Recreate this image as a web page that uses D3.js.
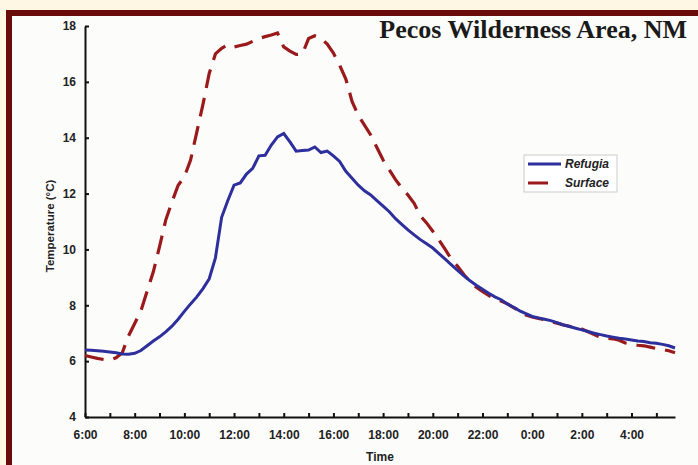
<!DOCTYPE html>
<html>
<head>
<meta charset="utf-8">
<script src="https://cdn.jsdelivr.net/npm/d3@7"></script>
<style>
  body { margin: 0; background: #fdf7e3; }
  svg { display: block; }
</style>
</head>
<body>
<svg width="698" height="465"></svg>
<script>
// quarter-hour readings, starting 6:00
var refugia = [
    6.40, 6.39, 6.37, 6.35,
    6.33, 6.30, 6.26, 6.25,
    6.28, 6.38, 6.55, 6.72,
    6.87, 7.05, 7.25, 7.50,
    7.78, 8.05, 8.30, 8.60,
    8.95, 9.70, 11.15, 11.75,
    12.30, 12.38, 12.70, 12.90,
    13.35, 13.37, 13.74, 14.03,
    14.15, 13.85, 13.52, 13.54,
    13.56, 13.67, 13.47, 13.52,
    13.35, 13.15, 12.80, 12.55,
    12.30, 12.10, 11.95, 11.75,
    11.55, 11.35, 11.10, 10.90,
    10.70, 10.52, 10.35, 10.20,
    10.05, 9.85, 9.65, 9.45,
    9.25, 9.05, 8.88, 8.72,
    8.57, 8.43, 8.30, 8.20,
    8.05, 7.93, 7.80, 7.70,
    7.60, 7.55, 7.50, 7.45,
    7.38, 7.30, 7.24, 7.18,
    7.12, 7.06, 7.00, 6.95,
    6.90, 6.86, 6.82, 6.79,
    6.76, 6.72, 6.70, 6.66,
    6.64, 6.60, 6.55, 6.47
]
var surface = [
    6.20, 6.15, 6.10, 6.06,
    6.04, 6.12, 6.30, 6.90,
    7.35, 7.80, 8.50, 9.20,
    10.10, 11.05, 11.70, 12.30,
    12.60, 13.20, 14.20, 15.20,
    16.30, 17.00, 17.20, 17.33,
    17.25, 17.30, 17.35, 17.45,
    17.55, 17.62, 17.68, 17.75,
    17.25, 17.10, 16.98, 17.00,
    17.55, 17.65, 17.57, 17.35,
    17.03, 16.60, 16.10, 15.30,
    14.80, 14.45, 14.10, 13.65,
    13.20, 12.85, 12.50, 12.20,
    11.95, 11.65, 11.20, 10.95,
    10.65, 10.34, 10.00, 9.65,
    9.40, 9.10, 8.85, 8.65,
    8.50, 8.35, 8.22, 8.15,
    8.05, 7.92, 7.80, 7.65,
    7.58, 7.53, 7.48, 7.42,
    7.36, 7.30, 7.25, 7.20,
    7.15, 7.05, 6.95, 6.85,
    6.82, 6.80, 6.75, 6.65,
    6.60, 6.57, 6.55, 6.50,
    6.45, 6.42, 6.37, 6.30
]
var timeLabels = ["6:00","8:00","10:00","12:00","14:00","16:00","18:00","20:00","22:00","0:00","2:00","4:00"]
var tempTicks = [4, 6, 8, 10, 12, 14, 16, 18]
var seriesNames = ["Refugia", "Surface"]

var svg = d3.select("svg")

// maroon frame + inner panel
svg.append("rect").attr("x", 6).attr("y", 10).attr("width", 700).attr("height", 470).attr("fill", "#6a0b0b")
svg.append("rect").attr("x", 12).attr("y", 16).attr("width", 700).attr("height", 470).attr("fill", "#fcfcfb")

var x = d3.scaleLinear().domain([0, 23.75]).range([85, 675])
var y = d3.scaleLinear().domain([4, 18]).range([417, 26])

var font = "'Liberation Sans', Arial, sans-serif"

var xAxis = d3.axisBottom(x)
    .tickValues(d3.range(0, 24))
    .tickSizeInner(-4).tickSizeOuter(0).tickPadding(13)
    .tickFormat(function(d){ return d % 2 == 0 ? timeLabels[d / 2] : "" })
var yAxis = d3.axisLeft(y)
    .tickValues(tempTicks)
    .tickSizeInner(-4).tickSizeOuter(0).tickPadding(9)

var gx = svg.append("g").attr("transform", "translate(0,417)").call(xAxis)
var gy = svg.append("g").attr("transform", "translate(85,0)").call(yAxis)
;[gx, gy].forEach(function(g){
    g.selectAll("path, line").attr("stroke", "#111").attr("stroke-width", 2)
    g.selectAll("text").attr("font-family", font).attr("font-size", 12)
        .attr("font-weight", "bold").attr("fill", "#222")
})

svg.append("text").attr("x", 380).attr("y", 461).attr("text-anchor", "middle")
    .attr("font-family", font).attr("font-size", 12).attr("font-weight", "bold").attr("fill", "#222")
    .text("Time")
svg.append("text").attr("transform", "translate(54,226) rotate(-90)").attr("text-anchor", "middle")
    .attr("font-family", font).attr("font-size", 11.5).attr("font-weight", "bold").attr("fill", "#222")
    .text("Temperature (°C)")

var line = d3.line()
    .x(function(d, i){ return x(i * 0.25) })
    .y(function(d){ return y(d) })

svg.append("path").datum(surface)
    .attr("fill", "none").attr("stroke", "#9a1a1c").attr("stroke-width", 3.2)
    .attr("stroke-dasharray", "19,10")
    .attr("d", line)
svg.append("path").datum(refugia)
    .attr("fill", "none").attr("stroke", "#2d2f9c").attr("stroke-width", 3)
    .attr("d", line)

// legend
var lg = svg.append("g").attr("transform", "translate(524,155)")
lg.append("rect").attr("width", 93).attr("height", 37).attr("fill", "#fff").attr("stroke", "#ccc")
seriesNames.forEach(function(name, i){
    var yy = 9 + i * 19
    lg.append("line").attr("x1", 4).attr("x2", i == 0 ? 37 : 24).attr("y1", yy).attr("y2", yy)
        .attr("stroke", i == 0 ? "#2d2f9c" : "#9a1a1c").attr("stroke-width", 3)
    lg.append("text").attr("x", 41).attr("y", yy + 4)
        .attr("font-family", font).attr("font-size", 12).attr("font-weight", "bold")
        .attr("font-style", "italic").attr("fill", "#222")
        .text(name)
})

svg.append("text").attr("x", 687).attr("y", 38).attr("text-anchor", "end")
    .attr("font-family", "'Liberation Serif', 'Times New Roman', serif")
    .attr("font-size", 26).attr("font-weight", "bold").attr("fill", "#1a1a1a")
    .text("Pecos Wilderness Area, NM")
</script>
</body>
</html>
